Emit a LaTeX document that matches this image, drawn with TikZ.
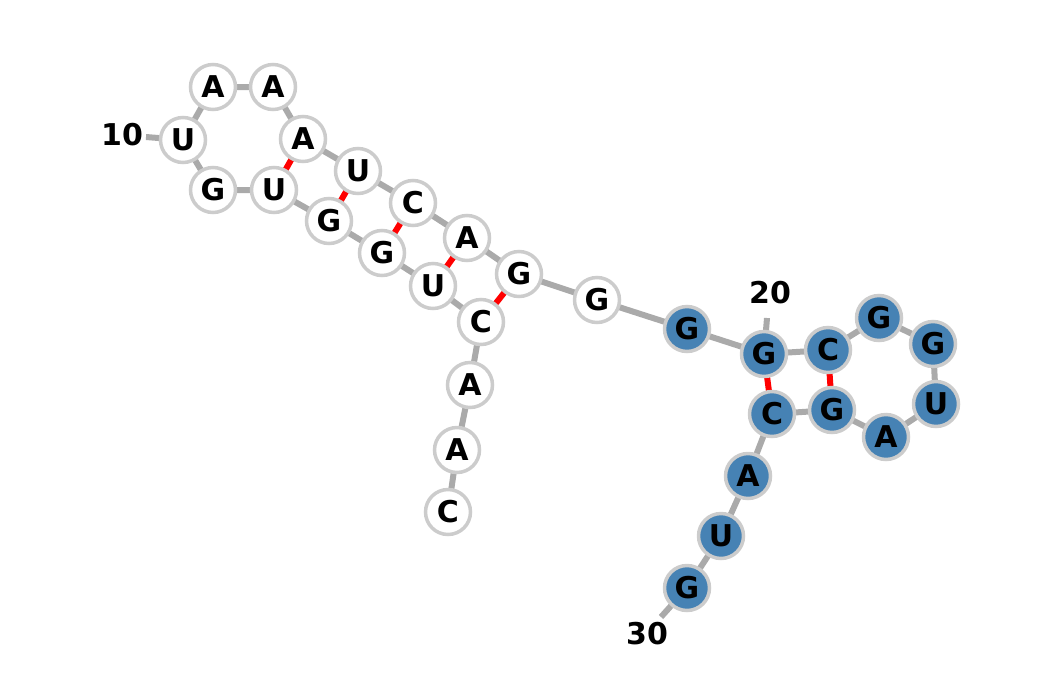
\documentclass[tikz,border=0pt]{standalone}
\usepackage{fontspec}
\setmainfont{DejaVu Sans}
\definecolor{bbgray}{HTML}{AAAAAA}
\definecolor{ringgray}{HTML}{CCCCCC}
\definecolor{nucblue}{HTML}{4682B4}
\begin{document}
\begin{tikzpicture}[x=1pt,y=-1pt,
  nuc/.style={circle,draw=ringgray,line width=3.5pt,fill=white,minimum size=45pt,inner sep=0pt,font=\fontsize{30}{30}\selectfont\bfseries},
  bnuc/.style={nuc,fill=nucblue},
  bb/.style={draw=bbgray,line width=6pt},
  bp/.style={draw=red,line width=6pt},
  numlab/.style={font=\fontsize{30}{30}\selectfont\bfseries,inner sep=0pt}]
\useasboundingbox (0,0) rectangle (1043,691);
% nodes positions
\coordinate (p1) at (448,512);
\coordinate (p2) at (457,450);
\coordinate (p3) at (470,385);
\coordinate (p4) at (481,322);
\coordinate (p5) at (433,286);
\coordinate (p6) at (382,253);
\coordinate (p7) at (329,221);
\coordinate (p8) at (274,190);
\coordinate (p9) at (213,190);
\coordinate (p10) at (183,140);
\coordinate (p11) at (213,87);
\coordinate (p12) at (273,87);
\coordinate (p13) at (303,139);
\coordinate (p14) at (358,171);
\coordinate (p15) at (413,203);
\coordinate (p16) at (467,238);
\coordinate (p17) at (519,274);
\coordinate (p18) at (597,300);
\coordinate (p19) at (687,329);
\coordinate (p20) at (764,354);
\coordinate (p21) at (828,350);
\coordinate (p22) at (879,318);
\coordinate (p23) at (933,344);
\coordinate (p24) at (936,404);
\coordinate (p25) at (886,437);
\coordinate (p26) at (832,410);
\coordinate (p27) at (772,414);
\coordinate (p28) at (748,476);
\coordinate (p29) at (721,536);
\coordinate (p30) at (687,588);
% tick ends
\coordinate (t10) at (146,137);
\coordinate (t20) at (767,318);
\coordinate (t30) at (661,617);
% backbone
\draw[bb] (p1)--(p2)--(p3)--(p4)--(p5)--(p6)--(p7)--(p8)--(p9)--(p10)--(p11)--(p12)--(p13)--(p14)--(p15)--(p16)--(p17)--(p18)--(p19)--(p20)--(p21)--(p22)--(p23)--(p24)--(p25)--(p26)--(p27)--(p28)--(p29)--(p30);
\draw[bb] (p10)--(t10);
\draw[bb] (p20)--(t20);
\draw[bb] (p30)--(t30);
% base pairs
\draw[bp] (p8)--(p13);
\draw[bp] (p7)--(p14);
\draw[bp] (p6)--(p15);
\draw[bp] (p5)--(p16);
\draw[bp] (p4)--(p17);
\draw[bp] (p20)--(p27);
\draw[bp] (p21)--(p26);
% nucleotides
\node[nuc] (n1) at (p1) {C};
\node[nuc] (n2) at (p2) {A};
\node[nuc] (n3) at (p3) {A};
\node[nuc] (n4) at (p4) {C};
\node[nuc] (n5) at (p5) {U};
\node[nuc] (n6) at (p6) {G};
\node[nuc] (n7) at (p7) {G};
\node[nuc] (n8) at (p8) {U};
\node[nuc] (n9) at (p9) {G};
\node[nuc] (n10) at (p10) {U};
\node[nuc] (n11) at (p11) {A};
\node[nuc] (n12) at (p12) {A};
\node[nuc] (n13) at (p13) {A};
\node[nuc] (n14) at (p14) {U};
\node[nuc] (n15) at (p15) {C};
\node[nuc] (n16) at (p16) {A};
\node[nuc] (n17) at (p17) {G};
\node[nuc] (n18) at (p18) {G};
\node[bnuc] (n19) at (p19) {G};
\node[bnuc] (n20) at (p20) {G};
\node[bnuc] (n21) at (p21) {C};
\node[bnuc] (n22) at (p22) {G};
\node[bnuc] (n23) at (p23) {G};
\node[bnuc] (n24) at (p24) {U};
\node[bnuc] (n25) at (p25) {A};
\node[bnuc] (n26) at (p26) {G};
\node[bnuc] (n27) at (p27) {C};
\node[bnuc] (n28) at (p28) {A};
\node[bnuc] (n29) at (p29) {U};
\node[bnuc] (n30) at (p30) {G};
% number labels
\node[numlab] (l10) at (122,135) {10};
\node[numlab] (l20) at (770,293) {20};
\node[numlab] (l30) at (647,634) {30};
\end{tikzpicture}
\end{document}
